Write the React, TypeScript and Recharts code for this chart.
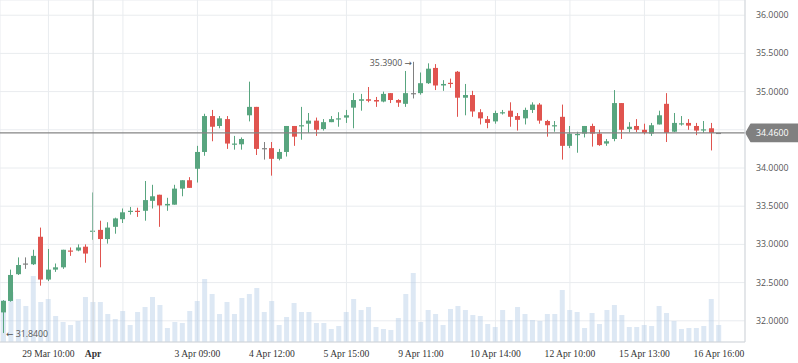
import React from "react";
import {
  ComposedChart,
  Bar,
  XAxis,
  YAxis,
  CartesianGrid,
  ReferenceLine,
} from "recharts";

// hourly-ish session candles, 29 Mar - 16 Apr
const opens = [
  32.11, 32.26, 32.61, 32.75, 32.74, 33.1, 32.54, 32.67, 32.7, 32.92,
  32.92, 32.97, 33.17, 33.19, 33.07, 33.23, 33.33, 33.43, 33.44, 33.44,
  33.57, 33.65, 33.51, 33.52, 33.73, 33.84, 33.99, 34.21, 34.68, 34.55,
  34.64, 34.31, 34.31, 34.69, 34.8, 34.26, 34.26, 34.12, 34.21, 34.55,
  34.55, 34.58, 34.62, 34.51, 34.6, 34.645, 34.66, 34.79, 34.88, 34.9,
  34.89, 34.87, 34.98, 34.89, 34.84, 34.98, 34.98, 35.11, 35.31, 35.08,
  35.115, 35.26, 34.92, 34.955, 34.73, 34.64, 34.61, 34.725, 34.75, 34.68,
  34.65, 34.76, 34.83, 34.615, 34.555, 34.67, 34.29, 34.44, 34.45, 34.55,
  34.45, 34.32, 34.38, 34.85, 34.51, 34.55, 34.5, 34.45, 34.57, 34.84,
  34.475, 34.58, 34.59, 34.55, 34.503, 34.52, 34.46,
];
const highs = [
  32.27, 32.67, 32.83, 32.83, 32.93, 33.22, 32.94, 32.75, 32.93, 32.96,
  33.0, 33.0, 33.68, 33.31, 33.29, 33.35, 33.47, 33.49, 33.48, 33.83,
  33.78, 33.65, 33.61, 33.78, 33.84, 33.88, 34.29, 34.71, 34.76, 34.68,
  34.68, 34.42, 34.4, 35.13, 34.8, 34.34, 34.34, 34.25, 34.55, 34.55,
  34.8, 34.72, 34.66, 34.64, 34.68, 34.73, 34.76, 34.98, 34.97, 35.06,
  34.93, 35.0, 34.98, 34.9, 35.27, 35.39, 35.25, 35.37, 35.36, 35.15,
  35.17, 35.27, 35.1, 35.01, 34.77, 34.68, 34.75, 34.76, 34.86, 34.72,
  34.79, 34.86, 34.85, 34.63, 34.615, 34.83, 34.55, 34.475, 34.55, 34.58,
  34.5, 34.38, 35.02, 34.85, 34.6, 34.64, 34.58, 34.59, 34.75, 34.98,
  34.72, 34.68, 34.64, 34.59, 34.615, 34.59, 34.46,
];
const lows = [
  31.84, 32.25, 32.6, 32.68, 32.73, 32.46, 32.52, 32.64, 32.68, 32.85,
  32.91, 32.76, 33.06, 32.7, 33.01, 33.14, 33.28, 33.39, 33.36, 33.31,
  33.47, 33.23, 33.44, 33.52, 33.63, 33.74, 33.81, 34.16, 34.35, 34.52,
  34.25, 34.24, 34.24, 34.61, 34.17, 34.11, 33.9, 34.1, 34.15, 34.29,
  34.37, 34.46, 34.42, 34.49, 34.6, 34.54, 34.59, 34.52, 34.75, 34.86,
  34.8, 34.86, 34.85, 34.8, 34.8, 34.91, 34.96, 35.1, 35.02, 35.01,
  35.05, 34.67, 34.69, 34.67, 34.57, 34.52, 34.58, 34.7, 34.54, 34.49,
  34.57, 34.72, 34.58, 34.41, 34.475, 34.11, 34.26, 34.2, 34.4, 34.28,
  34.29, 34.29, 34.35, 34.38, 34.47, 34.47, 34.44, 34.42, 34.57, 34.34,
  34.47, 34.555, 34.5, 34.43, 34.46, 34.23, 34.46,
];
const closes = [
  32.26, 32.6, 32.73, 32.75, 32.85, 32.54, 32.67, 32.7, 32.93, 32.91,
  32.96, 32.88, 33.18, 33.07, 33.22, 33.34, 33.42, 33.44, 33.43, 33.58,
  33.63, 33.51, 33.53, 33.73, 33.84, 33.74, 34.21, 34.68, 34.54, 34.65,
  34.32, 34.32, 34.38, 34.8, 34.25, 34.26, 34.12, 34.21, 34.55, 34.41,
  34.56, 34.62, 34.5, 34.6, 34.64, 34.65, 34.69, 34.89, 34.9, 34.88,
  34.87, 34.97, 34.89, 34.855, 34.98, 34.98, 35.11, 35.3, 35.08, 35.1,
  35.11, 34.92, 34.955, 34.74, 34.65, 34.59, 34.72, 34.73, 34.67, 34.63,
  34.76, 34.83, 34.62, 34.56, 34.56, 34.29, 34.45, 34.445, 34.55, 34.45,
  34.3, 34.35, 34.85, 34.5, 34.54, 34.5, 34.46, 34.56, 34.69, 34.46,
  34.59, 34.585, 34.555, 34.49, 34.506, 34.46, 34.46,
];
// volume in thousands
const volumes = [
  420, 500, 430, 360, 660, 400, 430, 260, 200, 170,
  210, 450, 400, 400, 280, 230, 310, 170, 300, 350,
  450, 370, 140, 200, 190, 310, 410, 630, 480, 280,
  400, 280, 440, 480, 540, 300, 410, 170, 250, 390,
  300, 300, 190, 190, 130, 160, 300, 430, 320, 350,
  150, 130, 120, 240, 480, 690, 200, 320, 280, 170,
  330, 360, 320, 270, 260, 180, 150, 320, 220, 350,
  280, 220, 210, 280, 280, 520, 320, 300, 140, 290,
  180, 320, 370, 270, 150, 150, 170, 160, 360, 290,
  210, 130, 140, 140, 160, 430, 170,
];

const slotCount = 100; // candles plus a few empty slots on the right
const tickSlots = [6, 12, 16, 26, 36, 46, 56, 66, 76, 86, 96];
const tickLabels = [
  "29 Mar 10:00",
  "Apr",
  "",
  "3 Apr 09:00",
  "4 Apr 12:00",
  "5 Apr 15:00",
  "9 Apr 11:00",
  "10 Apr 14:00",
  "12 Apr 10:00",
  "15 Apr 13:00",
  "16 Apr 16:00",
];
const priceTicks = [32, 32.5, 33, 33.5, 34, 34.5, 35, 35.5, 36];
const lastPrice = 34.46;

const UP = "#58a57f";
const DOWN = "#e0544f";
const FLAT = "#808080";
const SANS = "'Open Sans', 'DejaVu Sans', sans-serif";

const data = Array.from({ length: slotCount }, (_, i) =>
  i < opens.length
    ? {
        i,
        open: opens[i],
        high: highs[i],
        low: lows[i],
        close: closes[i],
        range: [lows[i], highs[i]],
        volume: volumes[i],
      }
    : { i }
);

const hiIdx = highs.indexOf(Math.max(...highs));
const loIdx = lows.indexOf(Math.min(...lows));

const Candle = (props: any) => {
  const { x, y, width, height, payload } = props;
  if (!payload || payload.open == null) return <g />;
  const { open, close, high, low, i } = payload;
  const top = Math.min(y, y + height);
  const bottom = Math.max(y, y + height);
  const span = high - low;
  const toY = (v: number) => (span === 0 ? top : top + ((high - v) / span) * (bottom - top));
  const color = close > open ? UP : close < open ? DOWN : FLAT;
  const cx = Math.floor(x + width / 2) + 0.5;
  const yo = toY(open);
  const yc = toY(close);
  const bTop = Math.min(yo, yc);
  const bH = Math.max(Math.abs(yo - yc), 1.2);
  return (
    <g>
      <line x1={cx} x2={cx} y1={top} y2={bottom} stroke={color} strokeWidth={1} />
      <rect x={cx - 2.5} y={bTop} width={5} height={bH} fill={color} />
      {i === hiIdx && (
        <text x={cx - 1.5} y={top + 1.5} dy="0.35em" textAnchor="end" fontFamily={SANS} fontSize={8.8} fill="#555">
          {high.toFixed(4) + " \u2192"}
        </text>
      )}
      {i === loIdx && (
        <text x={cx + 2.5} y={bottom + 1} dy="0.35em" textAnchor="start" fontFamily={SANS} fontSize={8.8} fill="#555">
          {"\u2190 " + low.toFixed(4)}
        </text>
      )}
    </g>
  );
};

const TimeTick = (props: any) => {
  const { x, y, payload } = props;
  const label = tickLabels[tickSlots.indexOf(payload.value)];
  if (!label) return <g />;
  return (
    <text
      x={x}
      y={y}
      dy="0.71em"
      textAnchor="middle"
      fontFamily="'Liberation Serif', serif"
      fontSize={9.6}
      fontWeight={label === "Apr" ? "bold" : "normal"}
      fill="#333"
    >
      {label}
    </text>
  );
};

// price labels on the right; the one hidden behind the last-price tag is skipped
const PriceTick = (props: any) => {
  const { x, y, payload } = props;
  if (Math.abs(payload.value - lastPrice) < 0.12) return <g />;
  return (
    <text x={x} y={y} dy="0.35em" textAnchor="start" fontFamily={SANS} fontSize={8.8} fill="#555">
      {Number(payload.value).toFixed(4)}
    </text>
  );
};

const PriceTag = (props: any) => {
  const { viewBox } = props;
  if (!viewBox) return null;
  const x0 = viewBox.x + viewBox.width + 1;
  const yc = viewBox.y;
  return (
    <g>
      <path
        d={`M${x0},${yc} L${x0 + 5},${yc - 8.7} L798,${yc - 8.7} L798,${yc + 8.7} L${x0 + 5},${yc + 8.7} Z`}
        fill="#808080"
        stroke="#808080"
        strokeLinejoin="round"
        strokeWidth={1.5}
      />
      <text x={x0 + 10} y={yc} dy="0.35em" fontFamily={SANS} fontSize={8.8} fill="#fff">
        {lastPrice.toFixed(4)}
      </text>
    </g>
  );
};

const App = () => {
  return (
    <div style={{ position: "absolute", left: 0, top: 0, background: "#fff" }}>
      <ComposedChart
        width={798}
        height={363}
        data={data}
        margin={{ top: 0, right: 0, bottom: 0, left: 0 }}
      >
        <CartesianGrid xAxisId="main" yAxisId="price" stroke="#e9ecef" />
        <XAxis
          xAxisId="main"
          dataKey="i"
          type="category"
          height={21}
          ticks={tickSlots}
          interval={0}
          tick={<TimeTick />}
          tickLine={false}
          tickSize={0}
          tickMargin={8}
          axisLine={{ stroke: "#d3d7db" }}
        />
        <XAxis xAxisId="vol" dataKey="i" type="category" hide />
        <YAxis
          yAxisId="price"
          orientation="right"
          width={53}
          domain={[31.7225, 36.199]}
          allowDataOverflow
          ticks={priceTicks}
          interval={0}
          tick={<PriceTick />}
          tickLine={false}
          tickSize={0}
          tickMargin={11}
          axisLine={{ stroke: "#d3d7db" }}
        />
        <YAxis yAxisId="vol" domain={[0, 3420]} allowDataOverflow hide />
        <ReferenceLine xAxisId="main" yAxisId="price" x={12} stroke="#d8dadd" />
        <Bar
          xAxisId="vol"
          yAxisId="vol"
          dataKey="volume"
          barSize={5}
          fill="rgb(180,205,230)"
          fillOpacity={0.45}
          isAnimationActive={false}
        />
        <ReferenceLine
          xAxisId="main"
          yAxisId="price"
          y={lastPrice}
          stroke="#858585"
          strokeWidth={1.3}
          label={<PriceTag />}
        />
        <Bar
          xAxisId="main"
          yAxisId="price"
          dataKey="range"
          barSize={5}
          shape={(p: any) => <Candle {...p} />}
          isAnimationActive={false}
        />
      </ComposedChart>
    </div>
  );
};

export default App;
